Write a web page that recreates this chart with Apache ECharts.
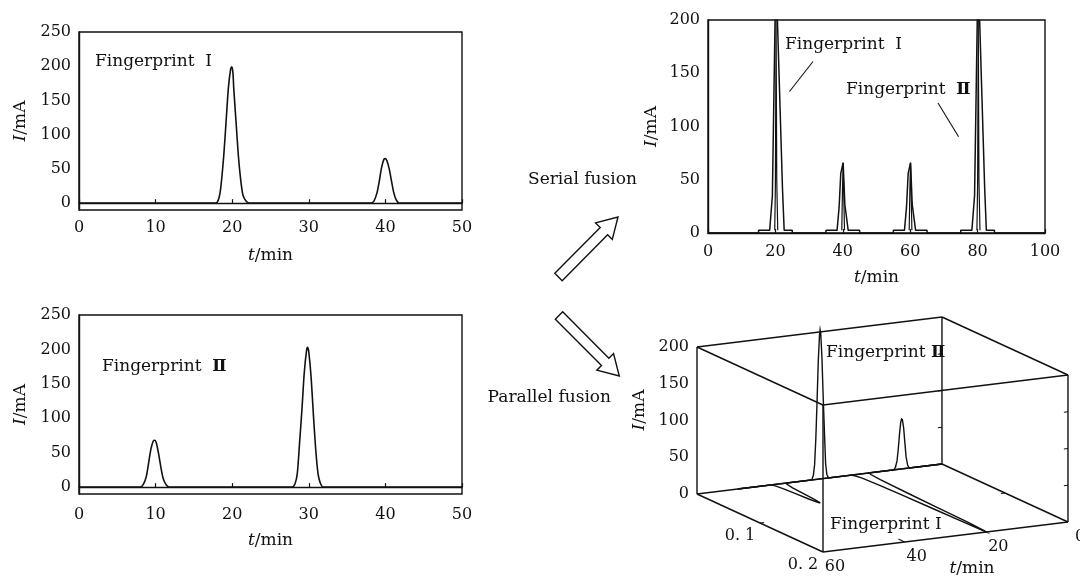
<!DOCTYPE html>
<html>
<head>
<meta charset="utf-8">
<script src="https://cdn.jsdelivr.net/npm/echarts@6/dist/echarts.min.js"></script>
<style>
html, body { margin: 0; padding: 0; background: #fff; }
#chart { width: 1080px; height: 579px; }
</style>
</head>
<body>
<div id="chart"></div>
<script>
// chromatogram of fingerprint I (t/min, I/mA)
var fp1T = [0, 17.8, 18.2, 18.5, 18.9, 19.2, 19.5, 19.8, 19.95, 20.1, 20.2, 20.5, 20.8, 21.1, 21.4, 21.8, 22.2,
  38.1, 38.5, 38.9, 39.2, 39.5, 39.8, 40.0, 40.2, 40.5, 40.8, 41.1, 41.4, 41.8, 50];
var fp1I = [0, 0, 5, 22, 70, 119, 168, 196, 199, 190, 168, 119, 70, 35, 12, 3, 0,
  0, 3, 15, 32, 52, 64, 65, 62, 50, 32, 15, 5, 0, 0];

// fingerprint II, bottom-left panel
var fp2T = [0, 8.0, 8.4, 8.8, 9.1, 9.4, 9.7, 9.9, 10.1, 10.4, 10.7, 11.0, 11.4, 11.8,
  27.8, 28.2, 28.5, 28.8, 29.1, 29.4, 29.7, 29.85, 30.0, 30.3, 30.6, 30.9, 31.2, 31.5, 31.9, 50];
var fp2I = [0, 0, 4, 16, 36, 56, 67, 68, 64, 48, 28, 12, 3, 0,
  0, 5, 20, 65, 112, 165, 198, 203, 196, 160, 105, 55, 20, 6, 0, 0];

// serial fusion trace (outer outline) and the inner spike of each peak
var serialT = [0, 15, 15, 18.3, 19.1, 19.9, 20.6, 22.1, 22.6, 25, 25,
  35, 35, 38.3, 38.9, 39.4, 40.1, 40.6, 41.6, 45, 45,
  55, 55, 58.3, 58.9, 59.4, 60.1, 60.6, 61.6, 65, 65,
  75, 75, 78.3, 79.1, 79.9, 80.6, 82.1, 82.6, 85, 85, 100];
var serialI = [0, 0, 2.5, 2.5, 35, 200, 200, 42, 2.5, 2.5, 0,
  0, 2.5, 2.5, 24, 56, 66, 27, 2.5, 2.5, 0,
  0, 2.5, 2.5, 24, 56, 66, 27, 2.5, 2.5, 0,
  0, 2.5, 2.5, 35, 200, 200, 42, 2.5, 2.5, 0, 0];
var innerT = [19.8, 20.0, 20.2, 20.4, 20.7, null, 39.7, 39.9, 40.1, 40.3, 40.5, null,
  59.7, 59.9, 60.1, 60.3, 60.5, null, 79.8, 80.0, 80.2, 80.4, 80.7];
var innerI = [2.5, 45, 200, 50, 2.5, null, 2.5, 40, 66, 35, 2.5, null,
  2.5, 40, 66, 35, 2.5, null, 2.5, 45, 200, 50, 2.5];

// 3-D (parallel fusion) axes
var ticks3dI = [0, 50, 100, 150, 200];
var ticks3dD = [0.1, 0.2];
var labels3dD = ['0. 1', '0. 2'];
var ticks3dT = [60, 40, 20, 0];

var ink = '#111';
var font = 'DejaVu Serif';
var fs = 16;   // tick labels
var fsT = 17;  // annotations

// 3-D box projection: t runs 60 -> 0 to the right, depth runs forward
var P = { t0: 60, x0: 697, y0: 494, tx: 4.083, ty: -0.5, dx: 630, dy: 290, iy: 0.735 };
function proj(t, d, v) {
  var k = P.t0 - t;
  return [P.x0 + k * P.tx + d * P.dx, P.y0 + k * P.ty + d * P.dy - v * P.iy];
}

function pairs(ts, vs) {
  return ts.map(function (t, i) { return t === null ? [null, null] : [t, vs[i]]; });
}

var nameRich = { i: { fontStyle: 'italic', fontFamily: font, fontSize: fsT, color: ink } };

function xAx(grid, max, step, margin, gap) {
  return {
    gridIndex: grid, type: 'value', min: 0, max: max, interval: step,
    axisLine: { lineStyle: { color: ink, width: 1.4 } },
    axisTick: { inside: true, length: 4, lineStyle: { color: ink, width: 1.2 } },
    splitLine: { show: false },
    axisLabel: { color: ink, fontFamily: font, fontSize: fs, margin: margin },
    name: '{i|t}/min', nameLocation: 'middle', nameGap: gap,
    nameTextStyle: { color: ink, fontFamily: font, fontSize: fsT, rich: nameRich }
  };
}
function yAx(grid, min, max, step, gap) {
  return {
    gridIndex: grid, type: 'value', min: min, max: max, interval: step,
    axisLine: { lineStyle: { color: ink, width: 1.4 } },
    axisTick: { show: false },
    splitLine: { show: false },
    axisLabel: {
      color: ink, fontFamily: font, fontSize: fs, margin: 8,
      formatter: function (v) { return v % 50 === 0 ? String(v) : ''; }
    },
    name: '{i|I}/mA', nameLocation: 'middle', nameRotate: 90, nameGap: gap,
    nameTextStyle: { color: ink, fontFamily: font, fontSize: fsT, rich: nameRich }
  };
}
function trace(idx, data, w, smooth) {
  return {
    type: 'line', xAxisIndex: idx, yAxisIndex: idx, data: data,
    showSymbol: false, smooth: smooth, connectNulls: false,
    lineStyle: { color: ink, width: w }, silent: true
  };
}

// 3-D box edges from the axis ranges
var tR = [60, 0], dR = [0, 0.2], iR = [0, 200];
var edges = [];
dR.forEach(function (d) { iR.forEach(function (v) { edges.push([tR[0], d, v, tR[1], d, v]); }); });
tR.forEach(function (t) { iR.forEach(function (v) { edges.push([t, dR[0], v, t, dR[1], v]); }); });
tR.forEach(function (t) { dR.forEach(function (d) { edges.push([t, d, iR[0], t, d, iR[1]]); }); });

var tickSegs = [];
[50, 100, 150].forEach(function (v) {
  tickSegs.push([0, 0, v, 1, 0, v]);
  tickSegs.push([0, 0.2, v, 1, 0.2, v]);
});
tickSegs.push([60, 0.1, 0, 59, 0.1, 0]);
tickSegs.push([0, 0.1, 0, 1, 0.1, 0]);
[20, 40].forEach(function (t) { tickSegs.push([t, 0.2, 0, t, 0.19, 0]); });

function segSeries(data, w) {
  return {
    type: 'custom', coordinateSystem: 'none', silent: true, data: data,
    renderItem: function (params, api) {
      var a = proj(api.value(0), api.value(1), api.value(2));
      var b = proj(api.value(3), api.value(4), api.value(5));
      return { type: 'line', shape: { x1: a[0], y1: a[1], x2: b[0], y2: b[1] },
        style: { stroke: ink, lineWidth: w } };
    }
  };
}
function curve3d(data) {
  return {
    type: 'custom', coordinateSystem: 'none', silent: true, data: data,
    renderItem: function (params, api) {
      if (params.dataIndexInside !== 0) return null;
      var pts = [];
      for (var j = 0; j < params.dataInsideLength; j++) {
        pts.push(proj(api.value(0, j), api.value(1, j), api.value(2, j)));
      }
      return { type: 'polyline', shape: { points: pts }, style: { stroke: ink, fill: null, lineWidth: 1.4 } };
    }
  };
}
// fingerprint II stands on the back wall, fingerprint I lies on the floor (depth = I/1000)
var fp2In3d = fp2T.map(function (t, i) { return [t, 0, fp2I[i]]; });
var fp1In3d = fp1T.map(function (t, i) { return [t, fp1I[i] / 1000, 0]; });

function txt(x, y, text, align, extra, size) {
  var s = { text: text, x: x, y: y, fill: ink, fontFamily: font, fontSize: size || fs,
    align: align || 'center', verticalAlign: 'middle' };
  if (extra) for (var k in extra) s[k] = extra[k];
  return { type: 'text', silent: true, style: s };
}

var graphics = [];
ticks3dI.forEach(function (v) {
  var p = proj(60, 0, v);
  graphics.push(txt(p[0] - 8, p[1], String(v), 'right'));
});
ticks3dD.forEach(function (d, i) {
  var p = proj(60, d, 0);
  graphics.push(txt(p[0] - 20, p[1] + 13, labels3dD[i]));
});
ticks3dT.forEach(function (t) {
  var p = proj(t, 0.2, 0);
  graphics.push(txt(p[0] + 12, p[1] + 15, String(t)));
});
graphics.push({
  type: 'text', silent: true, x: 640, y: 410, rotation: Math.PI / 2,
  style: { text: '{i|I}/mA', fill: ink, fontFamily: font, fontSize: fsT, align: 'center',
    verticalAlign: 'middle', rich: nameRich }
});
graphics.push(txt(972, 569, '{i|t}/min', 'center', { rich: nameRich }, fsT));

var romanRich = {
  r: { fontFamily: font, fontSize: fsT, color: ink },
  b: { fontFamily: font, fontSize: fsT, color: ink, fontWeight: 'bold' }
};
graphics.push(txt(95, 62, 'Fingerprint  {r|Ⅰ}', 'left', { rich: romanRich }, fsT));
graphics.push(txt(102, 367, 'Fingerprint  {b|Ⅱ}', 'left', { rich: romanRich }, fsT));
graphics.push(txt(785, 45, 'Fingerprint  {r|Ⅰ}', 'left', { rich: romanRich }, fsT));
graphics.push(txt(846, 90, 'Fingerprint  {b|Ⅱ}', 'left', { rich: romanRich }, fsT));
graphics.push(txt(826, 353, 'Fingerprint {b|Ⅱ}', 'left', { rich: romanRich }, fsT));
graphics.push(txt(830, 525, 'Fingerprint {r|Ⅰ}', 'left', { rich: romanRich }, fsT));
graphics.push(txt(528, 180, 'Serial fusion', 'left', null, fsT));
graphics.push(txt(611, 398, 'Parallel fusion', 'right', null, fsT));

// leader lines of the serial panel
[[789.5, 91.5, 813, 61.5], [938, 103, 958.6, 136.7]].forEach(function (l) {
  graphics.push({ type: 'line', silent: true, shape: { x1: l[0], y1: l[1], x2: l[2], y2: l[3] },
    style: { stroke: ink, lineWidth: 1.1 } });
});

// hollow block arrows
function arrow(x1, y1, x2, y2) {
  var len = Math.sqrt((x2 - x1) * (x2 - x1) + (y2 - y1) * (y2 - y1));
  var ux = (x2 - x1) / len, uy = (y2 - y1) / len, nx = -uy, ny = ux;
  var sw = 5.2, hw = 11.8, hl = 20;
  var bx = x2 - ux * hl, by = y2 - uy * hl;
  var pts = [
    [x1 + nx * sw, y1 + ny * sw], [bx + nx * sw, by + ny * sw], [bx + nx * hw, by + ny * hw],
    [x2, y2], [bx - nx * hw, by - ny * hw], [bx - nx * sw, by - ny * sw], [x1 - nx * sw, y1 - ny * sw]
  ];
  return { type: 'polygon', silent: true, shape: { points: pts },
    style: { fill: '#fff', stroke: ink, lineWidth: 1.4 } };
}
graphics.push(arrow(558.5, 277, 618, 217));
graphics.push(arrow(559, 315.5, 619.3, 376));

var option = {
  animation: false,
  backgroundColor: '#fff',
  grid: [
    { left: 79, top: 32, width: 383, height: 178, show: true, borderColor: ink, borderWidth: 1.4, outerBoundsMode: 'none' },
    { left: 79, top: 315, width: 383, height: 179, show: true, borderColor: ink, borderWidth: 1.4, outerBoundsMode: 'none' },
    { left: 708, top: 20, width: 337, height: 213, show: true, borderColor: ink, borderWidth: 1.4, outerBoundsMode: 'none' }
  ],
  xAxis: [xAx(0, 50, 10, 10, 37), xAx(1, 50, 10, 13, 38), xAx(2, 100, 20, 11, 36)],
  yAxis: [yAx(0, -10, 250, 10, 50), yAx(1, -10, 250, 10, 50), yAx(2, 0, 200, 50, 48)],
  series: [
    trace(0, pairs(fp1T, fp1I), 1.6, 0.25),
    trace(1, pairs(fp2T, fp2I), 1.6, 0.25),
    trace(2, pairs(serialT, serialI), 1.5, false),
    trace(2, pairs(innerT, innerI), 1.2, false),
    segSeries(edges, 1.4),
    segSeries(tickSegs, 1.1),
    curve3d(fp2In3d),
    curve3d(fp1In3d)
  ],
  graphic: graphics
};

echarts.init(document.getElementById('chart')).setOption(option);
</script>
</body>
</html>
